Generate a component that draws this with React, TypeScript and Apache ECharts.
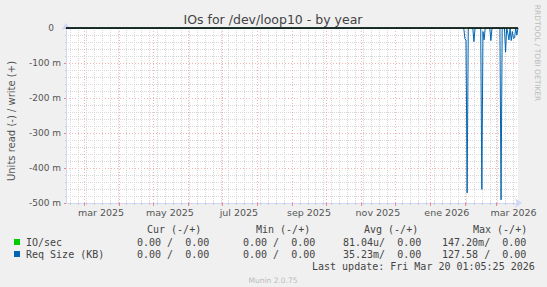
import React, { useEffect, useRef } from 'react';
import * as echarts from 'echarts';

// ---- data ----
const START_DATE = '2025-02-13';
const DAY_COUNT = 401; // 2025-02-13 .. 2026-03-20
const X_LABEL_DATES = ['2025-03-16', '2025-05-16', '2025-07-16', '2025-09-16', '2025-11-16', '2026-01-16', '2026-03-16'];
const X_LABEL_TEXTS = ['mar 2025', 'may 2025', 'jul 2025', 'sep 2025', 'nov 2025', 'ene 2026', 'mar 2026'];
const Y_MIN = -0.5;
const Y_MAX = 0;
const Y_STEP = 0.1;

// Req Size (KB), read side (negative), day index -> value
const READ_SPIKE_DAYS = [353, 354, 355, 361, 368, 369, 370, 376, 385, 389, 391, 392, 394, 395, 396, 397, 399];
const READ_SPIKE_VALUES = [-0.03, -0.035, -0.471, -0.039, -0.461, -0.01, -0.034, -0.036, -0.491, -0.069, -0.015, -0.034, -0.036, -0.01, -0.03, -0.028, -0.02];

// legend table
const LEGEND_NAMES = ['IO/sec', 'Req Size (KB)'];
const LEGEND_COLORS = ['#00cc00', '#0066b3'];
const LEGEND_HEADERS = ['Cur (-/+)', 'Min (-/+)', 'Avg (-/+)', 'Max (-/+)'];
const CUR_VALUES = ['0.00 /  0.00', '0.00 /  0.00'];
const MIN_VALUES = ['0.00 /  0.00', '0.00 /  0.00'];
const AVG_VALUES = ['81.04u/  0.00', '35.23m/  0.00'];
const MAX_VALUES = ['147.20m/  0.00', '127.58 /  0.00'];
const LAST_UPDATE = 'Last update: Fri Mar 20 01:05:25 2026';
const FOOTER = 'Munin 2.0.75';
const TITLE = 'IOs for /dev/loop10 - by year';
const Y_NAME = 'Units read (-) / write (+)';
const SIDE_TEXT = 'RRDTOOL / TOBI OETIKER';

const DAY_MS = 86400000;
const toUTC = (s: string) => {
  const [y, m, d] = s.split('-').map(Number);
  return Date.UTC(y, m - 1, d);
};

export default function App() {
  const ref = useRef<HTMLDivElement>(null);

  useEffect(() => {
    if (!ref.current) return;
    const chart = echarts.init(ref.current, undefined, { renderer: 'svg' });

    const start = toUTC(START_DATE);
    const dates: Date[] = [];
    const cats: string[] = [];
    for (let i = 0; i < DAY_COUNT; i++) {
      const d = new Date(start + i * DAY_MS);
      dates.push(d);
      cats.push(d.toISOString().slice(0, 10));
    }
    const isMonthStart = (i: number) => dates[i] && dates[i].getUTCDate() === 1;
    const isMonday = (i: number) => dates[i] && dates[i].getUTCDay() === 1;

    const labelMap = new Map<number, string>();
    X_LABEL_DATES.forEach((s, k) => {
      labelMap.set(Math.round((toUTC(s) - start) / DAY_MS), X_LABEL_TEXTS[k]);
    });

    const readSeries: number[] = new Array(DAY_COUNT).fill(0);
    READ_SPIKE_DAYS.forEach((d, k) => {
      readSeries[d] = READ_SPIKE_VALUES[k];
    });
    const ioSeries: number[] = new Array(DAY_COUNT).fill(0);

    const mono = 'DejaVu Sans Mono, monospace';
    const sans = 'DejaVu Sans, sans-serif';
    const nb = (s: string) => s.replace(/ /g, '\u00A0');

    const txt = (text: string, x: number, y: number, opts: any = {}) => ({
      type: 'text',
      x,
      y,
      rotation: opts.rotation || 0,
      silent: true,
      style: {
        text,
        fill: opts.fill || '#444',
        fontSize: opts.fontSize || 10,
        fontFamily: opts.fontFamily || mono,
        align: opts.align || 'left',
        textAlign: opts.align || 'left',
        verticalAlign: 'middle',
        textVerticalAlign: 'middle',
      },
    });

    const headerX = [147, 256, 364, 473];
    const colStart = [
      [137, 243, 343, 442],
      [137, 243, 343, 442],
    ];
    const rowY = [242, 254];
    const graphics: any[] = [
      txt(TITLE, 273, 19, { fontFamily: sans, fontSize: 12.5, align: 'center', fill: '#444' }),
      txt(Y_NAME, 11, 121, { fontFamily: sans, fontSize: 10, align: 'center', fill: '#555', rotation: Math.PI / 2 }),
      txt(SIDE_TEXT, 537, 53, { fontFamily: sans, fontSize: 7.5, align: 'center', fill: '#bbb', rotation: -Math.PI / 2 }),
      txt(nb(LAST_UPDATE), 312, 266),
      txt(FOOTER, 273, 280, { fontFamily: sans, fontSize: 7.5, align: 'center', fill: '#bbb' }),
    ];
    LEGEND_HEADERS.forEach((h, k) => graphics.push(txt(nb(h), headerX[k], 229)));
    LEGEND_NAMES.forEach((name, r) => {
      graphics.push({
        type: 'rect',
        silent: true,
        shape: { x: 14, y: rowY[r] - 3, width: 6, height: 6 },
        style: { fill: LEGEND_COLORS[r] },
      });
      graphics.push(txt(nb(name), 26, rowY[r]));
      [CUR_VALUES, MIN_VALUES, AVG_VALUES, MAX_VALUES].forEach((arr, c) => {
        graphics.push(txt(nb(arr[r]), colStart[r][c], rowY[r]));
      });
    });

    const redGrid = 'rgba(235,120,120,0.55)';
    const greyGrid = '#d8d8d8';
    const axisCol = '#CFD6F8';

    chart.setOption({
      animation: false,
      backgroundColor: '#f0f0f0',
      grid: {
        left: 66,
        right: 29,
        top: 28,
        bottom: 84,
        show: true,
        backgroundColor: '#ffffff',
        borderWidth: 0,
      },
      xAxis: [
        {
          type: 'category',
          data: cats,
          boundaryGap: false,
          position: 'bottom',
          axisLine: {
            show: true,
            onZero: false,
            lineStyle: { color: axisCol },
            symbol: ['none', 'arrow'],
            symbolSize: [7, 7],
            symbolOffset: [0, 4],
          },
          axisTick: { show: true, interval: (i: number) => isMonthStart(i), length: 3, lineStyle: { color: '#ee8888' } },
          axisLabel: { show: false },
          splitLine: { show: true, interval: (i: number) => isMonthStart(i), lineStyle: { color: redGrid, type: [1, 2] } },
        },
        {
          type: 'category',
          data: cats,
          boundaryGap: false,
          position: 'bottom',
          axisLine: { show: false, onZero: false },
          axisTick: { show: true, interval: (i: number) => isMonday(i) && !isMonthStart(i), length: 2, lineStyle: { color: '#cccccc' } },
          axisLabel: { show: false },
          splitLine: { show: true, interval: (i: number) => isMonday(i) && !isMonthStart(i), lineStyle: { color: greyGrid, type: [1, 1] } },
        },
        {
          type: 'category',
          data: cats,
          boundaryGap: false,
          position: 'bottom',
          axisLine: { show: false, onZero: false },
          axisTick: { show: false },
          axisLabel: {
            show: true,
            interval: (i: number) => labelMap.has(i),
            formatter: (_v: string, i: number) => labelMap.get(i) || '',
            color: '#555',
            fontSize: 9.5,
            fontFamily: sans,
            margin: 4,
          },
          splitLine: { show: false },
        },
      ],
      yAxis: {
        type: 'value',
        min: Y_MIN,
        max: Y_MAX,
        interval: Y_STEP,
        axisLine: {
          show: true,
          lineStyle: { color: axisCol },
          symbol: ['none', 'arrow'],
          symbolSize: [7, 7],
          symbolOffset: [0, 5],
        },
        axisTick: { show: true, length: 2, lineStyle: { color: '#ee8888' } },
        minorTick: { show: true, splitNumber: 5, length: 1, lineStyle: { color: '#cccccc' } },
        axisLabel: {
          color: '#555',
          fontSize: 9,
          fontFamily: sans,
          margin: 5,
          formatter: (v: number) => (Math.abs(v) < 1e-9 ? '{z|0}' : `${Math.round(v * 1000)} m`),
          rich: { z: { color: '#555', fontSize: 9, fontFamily: sans, padding: [0, 7, 0, 0] } },
        },
        splitLine: { show: true, lineStyle: { color: redGrid, type: [1, 2] } },
        minorSplitLine: { show: true, lineStyle: { color: greyGrid, type: [1, 1] } },
      },
      series: [
        {
          type: 'line',
          name: LEGEND_NAMES[0],
          data: ioSeries,
          xAxisIndex: 0,
          symbol: 'none',
          lineStyle: { color: LEGEND_COLORS[0], width: 1 },
          itemStyle: { color: LEGEND_COLORS[0] },
        },
        {
          type: 'line',
          name: LEGEND_NAMES[1],
          data: readSeries,
          xAxisIndex: 0,
          symbol: 'none',
          lineStyle: { color: LEGEND_COLORS[1], width: 1 },
          itemStyle: { color: LEGEND_COLORS[1] },
          markLine: {
            silent: true,
            symbol: 'none',
            label: { show: false },
            lineStyle: { color: '#000000', width: 1.5, type: 'solid' },
            data: [{ yAxis: 0 }],
          },
        },
      ],
      graphic: graphics,
    });

    return () => chart.dispose();
  }, []);

  return <div ref={ref} style={{ position: 'fixed', left: 0, top: 0, width: 547, height: 287 }} />;
}
